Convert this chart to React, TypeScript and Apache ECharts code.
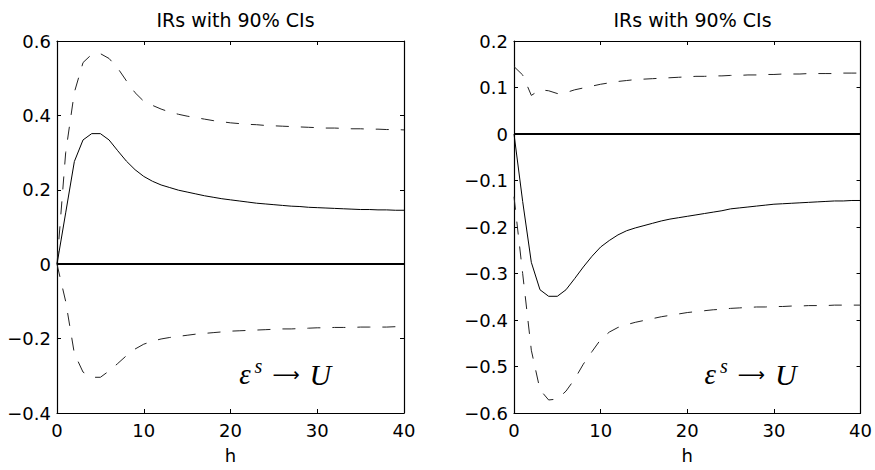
import React, { useEffect, useRef } from "react";
import * as echarts from "echarts";

const horizons = [0, 1, 2, 3, 4, 5, 6, 7, 8, 9, 10, 11, 12, 13, 14, 15, 16, 17, 18, 19, 20, 21, 22, 23, 24, 25, 26, 27, 28, 29, 30, 31, 32, 33, 34, 35, 36, 37, 38, 39, 40];

const leftIR = [0, 0.138, 0.276, 0.334, 0.351, 0.351, 0.334, 0.305, 0.277, 0.254, 0.236, 0.223, 0.213, 0.206, 0.199, 0.194, 0.189, 0.184, 0.18, 0.176, 0.173, 0.17, 0.167, 0.164, 0.162, 0.16, 0.158, 0.156, 0.155, 0.153, 0.152, 0.151, 0.15, 0.149, 0.148, 0.147, 0.147, 0.146, 0.146, 0.145, 0.145];
const leftUpper = [0, 0.3, 0.462, 0.542, 0.564, 0.566, 0.553, 0.527, 0.493, 0.461, 0.438, 0.427, 0.417, 0.409, 0.403, 0.398, 0.394, 0.39, 0.386, 0.383, 0.38, 0.378, 0.376, 0.375, 0.373, 0.372, 0.371, 0.37, 0.369, 0.368, 0.367, 0.366, 0.366, 0.365, 0.364, 0.364, 0.363, 0.363, 0.362, 0.362, 0.361];
const leftLower = [0, -0.1, -0.24, -0.29, -0.304, -0.304, -0.287, -0.267, -0.246, -0.228, -0.215, -0.207, -0.201, -0.197, -0.194, -0.191, -0.188, -0.186, -0.184, -0.182, -0.18, -0.179, -0.178, -0.177, -0.176, -0.175, -0.174, -0.174, -0.173, -0.172, -0.171, -0.171, -0.17, -0.17, -0.17, -0.169, -0.169, -0.169, -0.169, -0.168, -0.168];

const rightIR = [0, -0.145, -0.276, -0.335, -0.349, -0.349, -0.335, -0.311, -0.286, -0.263, -0.243, -0.229, -0.217, -0.208, -0.202, -0.197, -0.192, -0.187, -0.183, -0.18, -0.177, -0.174, -0.171, -0.168, -0.165, -0.161, -0.159, -0.157, -0.155, -0.153, -0.151, -0.15, -0.149, -0.148, -0.147, -0.146, -0.145, -0.144, -0.144, -0.143, -0.143];
const rightUpper = [0.145, 0.127, 0.083, 0.095, 0.093, 0.087, 0.089, 0.095, 0.099, 0.103, 0.107, 0.11, 0.113, 0.115, 0.117, 0.118, 0.119, 0.12, 0.121, 0.122, 0.123, 0.124, 0.124, 0.125, 0.125, 0.126, 0.126, 0.127, 0.127, 0.128, 0.128, 0.129, 0.129, 0.129, 0.13, 0.13, 0.13, 0.13, 0.131, 0.131, 0.131];
const rightLower = [-0.135, -0.3, -0.465, -0.55, -0.572, -0.57, -0.553, -0.527, -0.495, -0.468, -0.442, -0.426, -0.416, -0.41, -0.405, -0.401, -0.397, -0.393, -0.39, -0.387, -0.384, -0.382, -0.38, -0.378, -0.377, -0.375, -0.374, -0.373, -0.372, -0.372, -0.371, -0.371, -0.37, -0.37, -0.369, -0.369, -0.369, -0.368, -0.368, -0.368, -0.368];

const xRange = [0, 40, 10];
const leftYRange = [-0.4, 0.6, 0.2];
const rightYRange = [-0.6, 0.2, 0.1];

const panelTitle = "IRs with 90% CIs";
const xName = "h";
const annotation = "{e|ε}{s|s}{a|⟶}{u|U}";
const leftAnnotationAt = [21.0, -0.296];
const rightAnnotationAt = [22.0, -0.517];

const FONT = "DejaVu Sans";

const fmt = (v: number) => String(Math.round(v * 10) / 10).replace("-", "\u2212");

const pairs = (ys: number[]) => horizons.map((h, i) => [h, ys[i]]);

export default function App() {
  const ref = useRef<HTMLDivElement>(null);
  useEffect(() => {
    const chart = echarts.init(ref.current!, null, { renderer: "svg" });
    const grids = [
      { left: 57, top: 41, width: 347, height: 372 },
      { left: 514, top: 41, width: 347, height: 372 },
    ];
    const axisLine = { show: true, onZero: false, lineStyle: { color: "#000", width: 1.2 } };
    const tick = { show: true, inside: true, length: 4, lineStyle: { color: "#000", width: 1 } };
    const xAxes: any[] = [];
    const yAxes: any[] = [];
    const yRanges = [leftYRange, rightYRange];
    [0, 1].forEach((g) => {
      xAxes.push({
        type: "value", gridIndex: g, position: "bottom", min: xRange[0], max: xRange[1], interval: xRange[2],
        axisLine, axisTick: tick, splitLine: { show: false },
        axisLabel: { color: "#000", fontFamily: FONT, fontSize: 18, margin: 8 },
        name: xName, nameLocation: "middle", nameGap: 33,
        nameTextStyle: { color: "#000", fontFamily: FONT, fontSize: 18 },
      });
      xAxes.push({
        type: "value", gridIndex: g, position: "top", min: xRange[0], max: xRange[1], interval: xRange[2],
        axisLine, axisTick: tick, splitLine: { show: false }, axisLabel: { show: false },
      });
      const yr = yRanges[g];
      yAxes.push({
        type: "value", gridIndex: g, position: "left", min: yr[0], max: yr[1], interval: yr[2],
        axisLine, axisTick: tick, splitLine: { show: false },
        axisLabel: { color: "#000", fontFamily: FONT, fontSize: 18, margin: 6, formatter: fmt },
      });
      yAxes.push({
        type: "value", gridIndex: g, position: "right", min: yr[0], max: yr[1], interval: yr[2],
        axisLine, axisTick: tick, splitLine: { show: false }, axisLabel: { show: false },
      });
    });
    const mk = (g: number, data: number[], dashed: boolean, zero: boolean) => ({
      type: "line", xAxisIndex: g * 2, yAxisIndex: g * 2, data: pairs(data), showSymbol: false, symbol: "none",
      silent: true, z: dashed ? 2 : 3,
      lineStyle: { color: dashed ? "#222" : "#000", width: 1, type: dashed ? [13, 12] : "solid" },
      markLine: zero
        ? { silent: true, symbol: "none", label: { show: false }, lineStyle: { color: "#000", width: 2, type: "solid" }, data: [{ yAxis: 0 }] }
        : undefined,
    });
    const option: any = {
      animation: false,
      backgroundColor: "#fff",
      title: [
        { text: panelTitle, left: 57 + 173.5, top: 5, textAlign: "center", textStyle: { color: "#000", fontFamily: FONT, fontSize: 19, fontWeight: "normal" } },
        { text: panelTitle, left: 514 + 173.5, top: 5, textAlign: "center", textStyle: { color: "#000", fontFamily: FONT, fontSize: 19, fontWeight: "normal" } },
      ],
      grid: grids,
      xAxis: xAxes,
      yAxis: yAxes,
      series: [
        mk(0, leftIR, false, true),
        mk(0, leftUpper, true, false),
        mk(0, leftLower, true, false),
        mk(1, rightIR, false, true),
        mk(1, rightUpper, true, false),
        mk(1, rightLower, true, false),
      ],
    };
    chart.setOption(option);
    const rich = {
      e: { fontFamily: "Liberation Serif", fontStyle: "italic", fontSize: 29, fill: "#000" },
      s: { fontFamily: "Liberation Serif", fontStyle: "italic", fontSize: 20, fill: "#000", padding: [0, 0, 16, 4] },
      a: { fontFamily: "DejaVu Sans", fontSize: 19, fill: "#000", padding: [0, 10, 0, 10] },
      u: { fontFamily: "Liberation Serif", fontStyle: "italic", fontSize: 30, fill: "#000" },
    };
    const p1 = chart.convertToPixel({ xAxisIndex: 0, yAxisIndex: 0 } as any, leftAnnotationAt) as number[];
    const p2 = chart.convertToPixel({ xAxisIndex: 2, yAxisIndex: 2 } as any, rightAnnotationAt) as number[];
    chart.setOption({
      graphic: [p1, p2].map((p) => ({
        type: "text", x: p[0], y: p[1], silent: true,
        style: { text: annotation, rich, align: "left", verticalAlign: "middle" },
      })),
    });
    return () => chart.dispose();
  }, []);
  return <div ref={ref} style={{ position: "absolute", left: 0, top: 0, width: 875, height: 470, background: "#fff" }} />;
}
